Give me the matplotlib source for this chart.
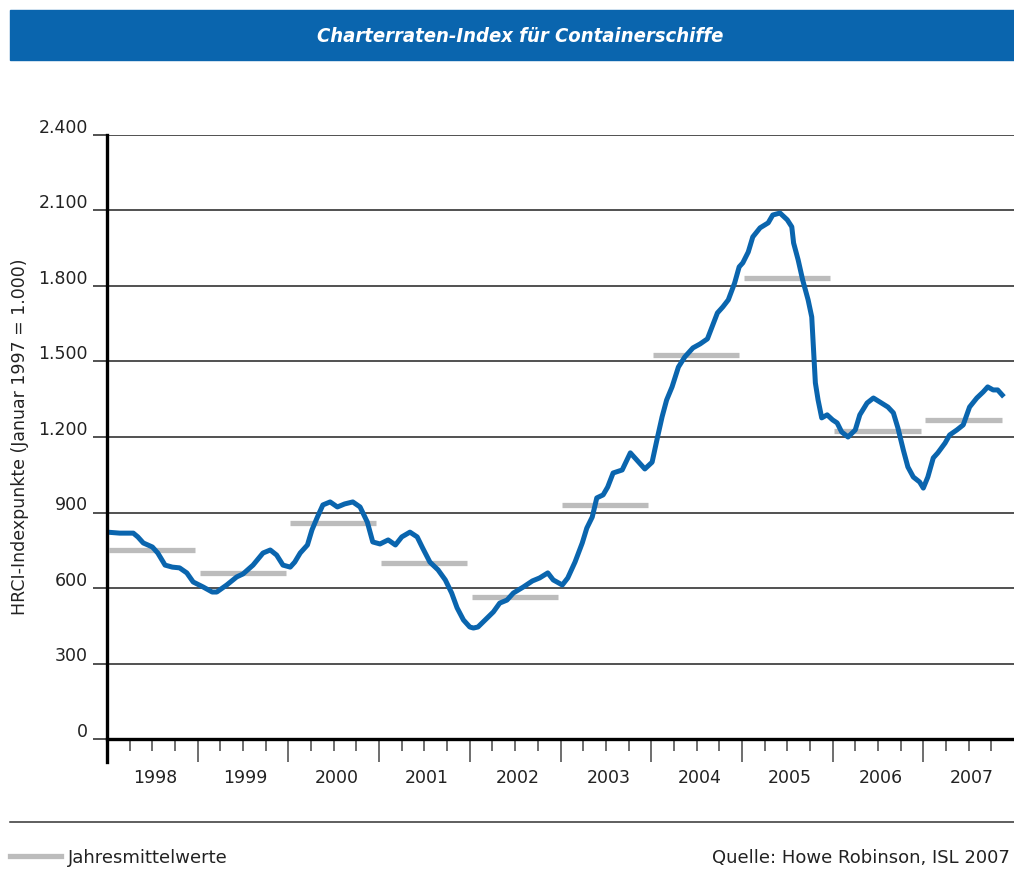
import matplotlib
matplotlib.use("Agg")
import matplotlib.pyplot as plt
import matplotlib.ticker as ticker
import matplotlib.transforms as mtransforms
from matplotlib.lines import Line2D

# HRCI values (decimal year, index points)
hrci_x = [1998.00, 1998.14, 1998.29, 1998.34, 1998.40, 1998.50, 1998.56, 1998.64, 1998.72, 1998.80,
          1998.88, 1998.95, 1999.06, 1999.16, 1999.21, 1999.32, 1999.43, 1999.50, 1999.61, 1999.72,
          1999.80, 1999.87, 1999.94, 2000.02, 2000.07, 2000.13, 2000.21, 2000.26, 2000.32, 2000.38,
          2000.46, 2000.54, 2000.62, 2000.71, 2000.79, 2000.87, 2000.93, 2001.01, 2001.10, 2001.18,
          2001.25, 2001.34, 2001.42, 2001.48, 2001.56, 2001.65, 2001.73, 2001.80, 2001.86, 2001.93,
          2002.00, 2002.04, 2002.09, 2002.17, 2002.26, 2002.33, 2002.41, 2002.48, 2002.59, 2002.69,
          2002.77, 2002.86, 2002.92, 2003.02, 2003.08, 2003.16, 2003.24, 2003.29, 2003.35, 2003.40,
          2003.47, 2003.52, 2003.58, 2003.68, 2003.77, 2003.84, 2003.93, 2004.01, 2004.07, 2004.12,
          2004.17, 2004.23, 2004.30, 2004.37, 2004.46, 2004.54, 2004.62, 2004.67, 2004.73, 2004.79,
          2004.85, 2004.92, 2004.97, 2005.01, 2005.07, 2005.12, 2005.20, 2005.29, 2005.34, 2005.42,
          2005.50, 2005.55, 2005.57, 2005.62, 2005.67, 2005.73, 2005.77, 2005.79, 2005.81, 2005.84,
          2005.88, 2005.94, 2006.00, 2006.05, 2006.10, 2006.17, 2006.25, 2006.30, 2006.38, 2006.45,
          2006.54, 2006.61, 2006.67, 2006.72, 2006.78, 2006.83, 2006.89, 2006.96, 2007.00, 2007.05,
          2007.11, 2007.16, 2007.24, 2007.29, 2007.37, 2007.44, 2007.51, 2007.59, 2007.66, 2007.71,
          2007.77, 2007.82, 2007.87]
hrci_y = [822, 818, 818, 803, 779, 763, 739, 691, 683, 680,
          660, 624, 604, 584, 584, 612, 644, 656, 691, 739,
          751, 731, 691, 683, 703, 739, 771, 831, 882, 930,
          942, 922, 934, 942, 922, 862, 783, 775, 791, 771,
          803, 822, 803, 759, 703, 672, 632, 580, 521, 473,
          445, 441, 445, 473, 505, 540, 552, 580, 604, 628,
          640, 660, 632, 612, 640, 703, 779, 838, 882, 958,
          970, 1001, 1057, 1069, 1137, 1109, 1073, 1100, 1200, 1280,
          1347, 1399, 1478, 1518, 1554, 1570, 1590, 1637, 1693, 1717,
          1745, 1812, 1876, 1892, 1935, 1995, 2031, 2051, 2082, 2090,
          2063, 2035, 1971, 1904, 1824, 1745, 1677, 1546, 1415, 1347,
          1276, 1288, 1268, 1256, 1220, 1200, 1228, 1288, 1335, 1355,
          1335, 1319, 1296, 1236, 1148, 1081, 1041, 1021, 997, 1041,
          1117, 1137, 1176, 1208, 1228, 1248, 1319, 1355, 1379, 1399,
          1387, 1387, 1367]

# yearly averages (Jahresmittelwerte)
years = [1998, 1999, 2000, 2001, 2002, 2003, 2004, 2005, 2006, 2007]
year_avg = [750, 660, 858, 698, 563, 928, 1525, 1832, 1223, 1268]

y_ticks = [0, 300, 600, 900, 1200, 1500, 1800, 2100, 2400]
y_labels = ['0', '300', '600', '900', '1.200', '1.500', '1.800', '2.100', '2.400']

BLUE = '#0a65ae'
GREY = '#bcbcbc'
TXT = '#222222'
FS = 12.5

fig = plt.figure(figsize=(10.14, 8.85), dpi=100)
ax = fig.add_axes([107 / 1014, 146 / 885, 907 / 1014, 604 / 885])

# title bar
fig.patches.append(plt.Rectangle((10 / 1014, 1 - 60 / 885), 1, 50 / 885,
                                 transform=fig.transFigure, color=BLUE, zorder=0))
fig.text(520 / 1014, 1 - 36 / 885, 'Charterraten-Index für Containerschiffe',
         family='DejaVu Sans', stretch='condensed', fontsize=14.5,
         weight='bold', style='italic', color='white', ha='center', va='center')

# yearly averages
last_x = hrci_x[-1]
for yr, avg in zip(years, year_avg):
    ax.plot([yr + 0.02, min(yr + 0.97, last_x)], [avg, avg], color=GREY, lw=3.8,
            solid_capstyle='butt', zorder=2)

# index line
ax.plot(hrci_x, hrci_y, color=BLUE, lw=3.6, solid_joinstyle='round', zorder=3)

ax.set_xlim(1998, 2008)
ax.set_ylim(0, 2400)

# axes lines
for s in ['top', 'right', 'left']:
    ax.spines[s].set_visible(False)
ax.spines['bottom'].set_linewidth(2.4)
ax.spines['bottom'].set_color('black')
ax.axvline(1998, ymin=-23 / 604, ymax=1, color='black', lw=2.4, clip_on=False, zorder=4)

# y grid and ticks
ax.set_yticks(y_ticks)
ax.set_yticklabels([])
ax.yaxis.grid(True, color=TXT, lw=1.1)
ax.tick_params(axis='y', length=10, width=1.1, color=TXT)
trans = mtransforms.blended_transform_factory(ax.transAxes, ax.transData)
for v, lab in zip(y_ticks, y_labels):
    ax.text(-19 / 907, v + 8, lab, transform=trans, ha='right', va='baseline',
            fontsize=FS, color=TXT)

# x ticks: year boundaries and quarters
ax.xaxis.set_major_locator(ticker.FixedLocator(years[1:]))
ax.xaxis.set_minor_locator(ticker.FixedLocator(
    [y + q for y in years for q in (0.25, 0.5, 0.75)]))
ax.xaxis.set_major_formatter(ticker.NullFormatter())
ax.tick_params(axis='x', which='major', length=16.5, width=1.2, color='#555555')
ax.tick_params(axis='x', which='minor', length=8.5, width=1.2, color='#555555')
xtrans = mtransforms.blended_transform_factory(ax.transData, ax.transAxes)
for yr in years:
    ax.text(yr + 0.53, -39 / 604, str(yr), transform=xtrans, ha='center', va='center',
            fontsize=FS, color=TXT)

fig.text(20 / 1014, 1 - 437 / 885, 'HRCI-Indexpunkte (Januar 1997 = 1.000)',
         rotation=90, ha='center', va='center', fontsize=FS, color=TXT)

# footer
fig.add_artist(Line2D([10 / 1014, 1], [1 - 822 / 885] * 2, color='#333333', lw=1.1))
fig.add_artist(Line2D([10 / 1014, 61 / 1014], [1 - 856 / 885] * 2, color=GREY, lw=3.8))
fig.text(68 / 1014, 1 - 858 / 885, 'Jahresmittelwerte', ha='left', va='center',
         fontsize=13, color=TXT)
fig.text(1010 / 1014, 1 - 858 / 885, 'Quelle: Howe Robinson, ISL 2007', ha='right',
         va='center', fontsize=13, color=TXT)

fig.savefig('out.png', dpi=100)
